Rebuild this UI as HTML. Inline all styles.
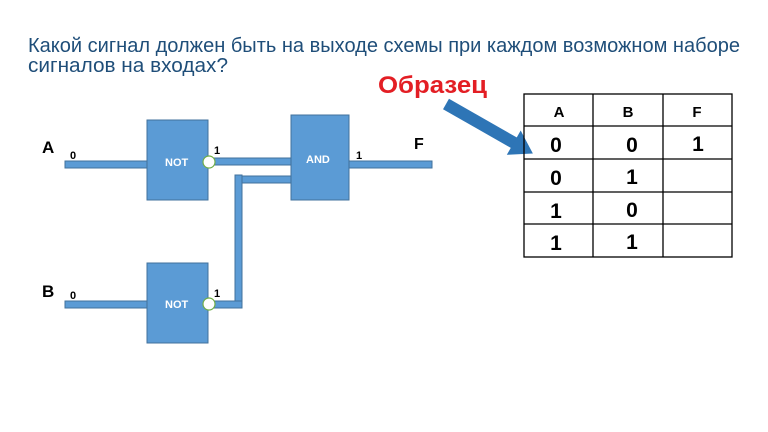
<!DOCTYPE html>
<html><head><meta charset="utf-8"><style>
html,body{margin:0;padding:0;background:#fff;}
svg{display:block;}
text{font-family:"Liberation Sans","DejaVu Sans",sans-serif;}
</style></head><body>
<svg width="768" height="432" viewBox="0 0 768 432" xmlns="http://www.w3.org/2000/svg">
<rect width="768" height="432" fill="#fff"/>
<text x="28" y="52" font-size="20" fill="#1f4e79" textLength="712" lengthAdjust="spacingAndGlyphs">Какой сигнал должен быть на выходе схемы при каждом возможном наборе</text>
<text x="28" y="72" font-size="20" fill="#1f4e79" textLength="200" lengthAdjust="spacingAndGlyphs">сигналов на входах?</text>
<text x="378" y="93" font-size="24" font-weight="bold" fill="#e31e24" textLength="109" lengthAdjust="spacingAndGlyphs">Образец</text>
<g transform="translate(446,104) rotate(29.7)">
<rect x="0" y="-6" width="80" height="12" fill="#2e75b6"/>
<polygon points="78,-14 100,0 78,14" fill="#2e75b6"/>
</g>
<g fill="#5b9bd5" stroke="#41719c" stroke-width="1">
<rect x="65" y="161" width="82" height="7"/>
<rect x="65" y="301" width="82" height="7"/>
<rect x="214" y="158" width="77" height="7"/>
<rect x="242" y="176" width="49" height="7"/>
<rect x="235" y="175" width="7" height="133"/>
<rect x="214" y="301" width="28" height="7"/>
<rect x="349" y="161" width="83" height="7"/>
<rect x="147" y="120" width="61" height="80"/>
<rect x="147" y="263" width="61" height="80"/>
<rect x="291" y="115" width="58" height="85"/>
</g>
<circle cx="209" cy="162" r="6" fill="#fff" stroke="#70ad47" stroke-width="1.2"/>
<circle cx="209" cy="304" r="6" fill="#fff" stroke="#70ad47" stroke-width="1.2"/>
<g fill="#fff" font-size="11" font-weight="bold">
<text x="165" y="166">NOT</text>
<text x="165" y="308">NOT</text>
<text x="306" y="163">AND</text>
</g>
<g fill="#000" font-weight="bold">
<text x="42" y="153" font-size="17">A</text>
<text x="42" y="297" font-size="17">B</text>
<text x="414" y="149" font-size="16">F</text>
<text x="70" y="159" font-size="11">0</text>
<text x="70" y="299" font-size="11">0</text>
<text x="214" y="154" font-size="11">1</text>
<text x="214" y="297" font-size="11">1</text>
<text x="356" y="159" font-size="11">1</text>
</g>
<g stroke="#000" stroke-width="1.3" fill="none">
<rect x="524" y="94" width="208" height="163"/>
<line x1="593" y1="94" x2="593" y2="257"/>
<line x1="663" y1="94" x2="663" y2="257"/>
<line x1="524" y1="126" x2="732" y2="126"/>
<line x1="524" y1="159" x2="732" y2="159"/>
<line x1="524" y1="192" x2="732" y2="192"/>
<line x1="524" y1="224" x2="732" y2="224"/>
</g>
<g fill="#000" font-weight="bold" text-anchor="middle">
<text x="559" y="117" font-size="15">A</text>
<text x="628" y="117" font-size="15">B</text>
<text x="697" y="117" font-size="15">F</text>
<text x="556" y="152" font-size="21">0</text>
<text x="632" y="152" font-size="21">0</text>
<text x="698" y="151" font-size="21">1</text>
<text x="556" y="185" font-size="21">0</text>
<text x="632" y="184" font-size="21">1</text>
<text x="556" y="218" font-size="21">1</text>
<text x="632" y="217" font-size="21">0</text>
<text x="556" y="250" font-size="21">1</text>
<text x="632" y="249" font-size="21">1</text>
</g>
</svg>
</body></html>
